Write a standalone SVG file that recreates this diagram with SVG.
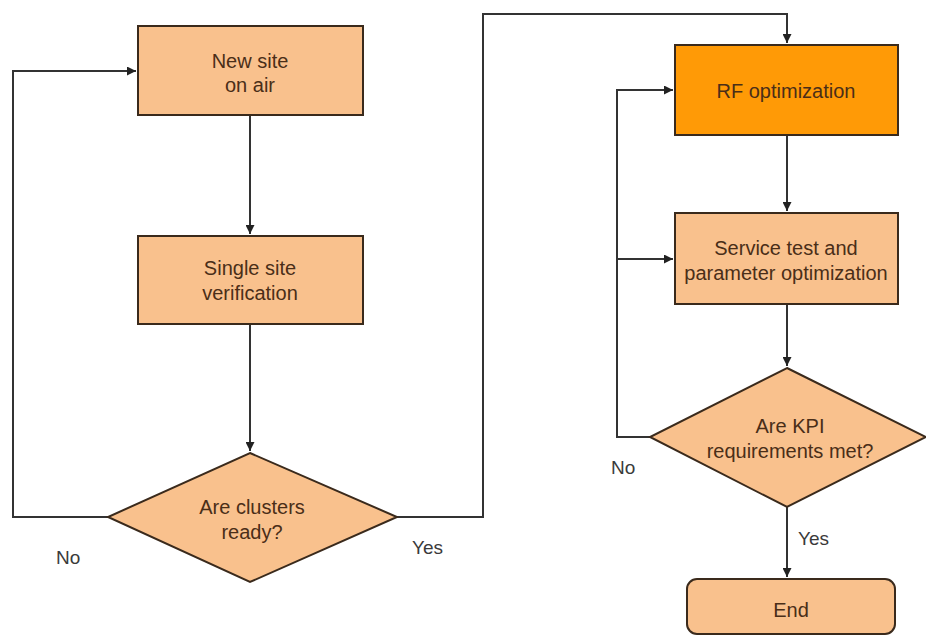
<svg xmlns="http://www.w3.org/2000/svg" width="926" height="637" viewBox="0 0 926 637">
  <defs>
    <marker id="arrow" viewBox="0 0 10 10" refX="10" refY="5" markerWidth="9" markerHeight="9" markerUnits="userSpaceOnUse" orient="auto">
      <path d="M0,0 L10,5 L0,10 z" fill="#222"/>
    </marker>
    <style>
      .box { fill: #F9C18D; stroke: #3a2a1c; stroke-width: 2; }
      .hot { fill: #FF9A06; }
      .label { font-family: "Liberation Sans", Arial, sans-serif; font-size: 20px; fill: #4a2e18; text-anchor: middle; }
      .edge { fill: none; stroke: #333; stroke-width: 2; }
      .edge-label { font-family: "Liberation Sans", Arial, sans-serif; font-size: 19px; fill: #3a3a3a; }
    </style>
  </defs>
  <rect width="926" height="637" fill="#fff"/>

  <g id="connectors">
    <path class="edge" d="M250,115 V234" marker-end="url(#arrow)"/>
    <path class="edge" d="M250,324 V451" marker-end="url(#arrow)"/>
    <path class="edge" d="M108,517 H13 V71 H136" marker-end="url(#arrow)"/>
    <path class="edge" d="M397,517 H483 V14 H787 V43" marker-end="url(#arrow)"/>
    <path class="edge" d="M787,135 V211" marker-end="url(#arrow)"/>
    <path class="edge" d="M787,304 V366" marker-end="url(#arrow)"/>
    <path class="edge" d="M650,437 H617 V90 H673" marker-end="url(#arrow)"/>
    <path class="edge" d="M617,259 H673" marker-end="url(#arrow)"/>
    <path class="edge" d="M787,507 V577" marker-end="url(#arrow)"/>
    <text class="edge-label" x="56" y="564">No</text>
    <text class="edge-label" x="412" y="554">Yes</text>
    <text class="edge-label" x="611" y="474">No</text>
    <text class="edge-label" x="798" y="545">Yes</text>
  </g>

  <g id="new-site">
    <rect class="box" x="138" y="26" width="225" height="89"/>
    <text class="label" x="250" y="68">New site</text>
    <text class="label" x="250" y="92">on air</text>
  </g>

  <g id="single-site">
    <rect class="box" x="138" y="236" width="225" height="88"/>
    <text class="label" x="250" y="275">Single site</text>
    <text class="label" x="250" y="300">verification</text>
  </g>

  <g id="clusters-ready">
    <polygon class="box" points="250,453 397,517 250,582 108,517"/>
    <text class="label" x="252" y="514">Are clusters</text>
    <text class="label" x="252" y="539">ready?</text>
  </g>

  <g id="rf-optimization">
    <rect class="box hot" x="675" y="45" width="223" height="90"/>
    <text class="label" x="786" y="98">RF optimization</text>
  </g>

  <g id="service-test">
    <rect class="box" x="675" y="213" width="223" height="91"/>
    <text class="label" x="786" y="255">Service test and</text>
    <text class="label" x="786" y="280">parameter optimization</text>
  </g>

  <g id="kpi-met">
    <polygon class="box" points="787,368 926,437 787,507 650,437"/>
    <text class="label" x="790" y="433">Are KPI</text>
    <text class="label" x="790" y="458">requirements met?</text>
  </g>

  <g id="end">
    <rect class="box" x="687" y="579" width="208" height="55" rx="10"/>
    <text class="label" x="791" y="617">End</text>
  </g>
</svg>
